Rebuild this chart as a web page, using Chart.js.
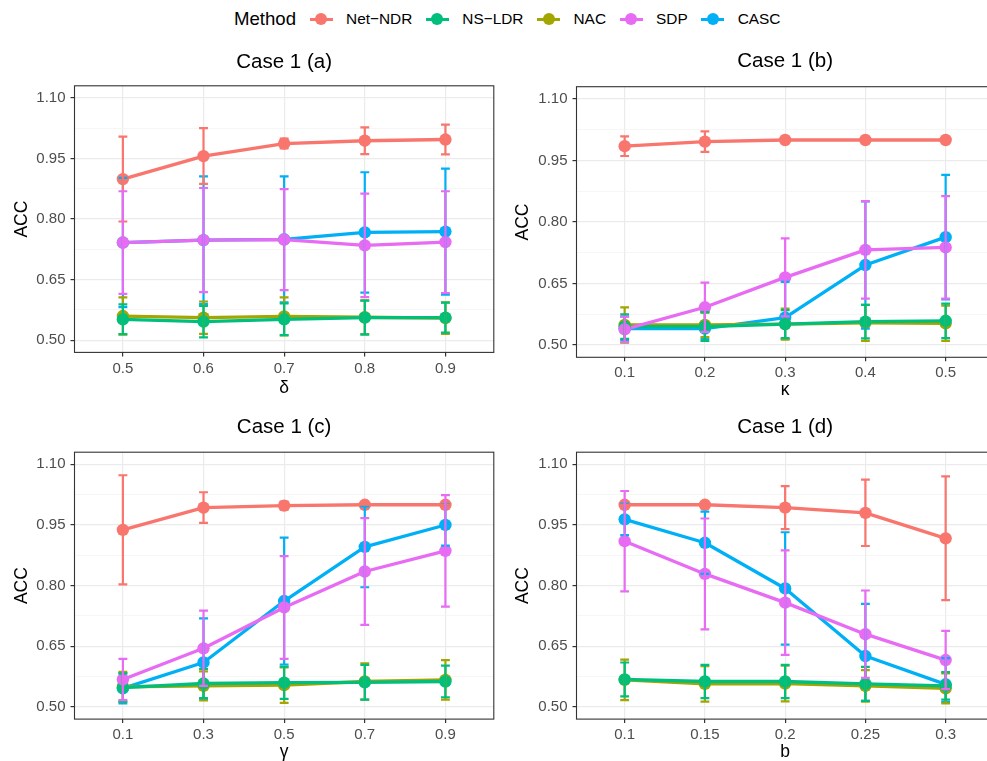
<!DOCTYPE html>
<html>
<head>
<meta charset="utf-8">
<script src="https://cdn.jsdelivr.net/npm/chart.js@4.4.1/dist/chart.umd.min.js"></script>
<style>
  html, body { margin: 0; padding: 0; background: #fff; overflow: hidden; width: 987px; height: 761px; }
  body { position: relative; font-family: "Liberation Sans", Arial, sans-serif; }
  .panel { position: absolute; }
  #legend { position: absolute; left: 234px; top: 8px; height: 22px; display: flex; align-items: center; white-space: nowrap; }
  #legend .ltitle { font-size: 18.6px; color: #000; }
  #legend .key { position: relative; width: 23px; height: 14px; margin: 0 13.5px; }
  #legend .key i { position: absolute; left: 0; right: 0; top: 5.5px; height: 3px; }
  #legend .key b { position: absolute; left: 5.5px; top: 1px; width: 12px; height: 12px; border-radius: 50%; }
  #legend .ltext { font-size: 15.4px; color: #000; }
</style>
</head>
<body>
<div id="legend"></div>
<div class="panel" style="left:0;top:40px"><canvas id="cA" width="500" height="360"></canvas></div>
<div class="panel" style="left:500px;top:40px"><canvas id="cB" width="500" height="360"></canvas></div>
<div class="panel" style="left:0;top:400px"><canvas id="cC" width="500" height="361"></canvas></div>
<div class="panel" style="left:500px;top:400px"><canvas id="cD" width="500" height="361"></canvas></div>
<script>
// legend order and colours
const methods = ["Net\u2212NDR", "NS\u2212LDR", "NAC", "SDP", "CASC"];
const colors = ["#F8766D", "#00BF7D", "#A3A500", "#E76BF3", "#00B0F6"];
const drawOrder = [4, 2, 0, 1, 3];   // CASC, NAC, Net-NDR, NS-LDR, SDP (last on top)

const yTicks = [0.50, 0.65, 0.80, 0.95, 1.10];

// rows follow `methods`: mean ACC, error bar low / high
const xLabelsA = ["0.5", "0.6", "0.7", "0.8", "0.9"];
const meanA = [
  [0.899, 0.956, 0.987, 0.994, 0.997],
  [0.552, 0.546, 0.552, 0.556, 0.556],
  [0.560, 0.556, 0.559, 0.557, 0.555],
  [0.742, 0.748, 0.749, 0.735, 0.743],
  [0.742, 0.748, 0.750, 0.767, 0.769],
];
const loA = [
  [0.794, 0.887, 0.975, 0.961, 0.960],
  [0.515, 0.507, 0.513, 0.514, 0.519],
  [0.514, 0.516, 0.512, 0.515, 0.516],
  [0.615, 0.619, 0.624, 0.607, 0.617],
  [0.582, 0.590, 0.594, 0.618, 0.613],
];
const hiA = [
  [1.004, 1.025, 0.999, 1.027, 1.034],
  [0.589, 0.585, 0.591, 0.598, 0.593],
  [0.606, 0.596, 0.606, 0.599, 0.594],
  [0.869, 0.877, 0.874, 0.863, 0.869],
  [0.902, 0.906, 0.906, 0.916, 0.925],
];

const xLabelsB = ["0.1", "0.2", "0.3", "0.4", "0.5"];
const meanB = [
  [0.985, 0.996, 1.000, 1.000, 1.000],
  [0.545, 0.545, 0.551, 0.557, 0.559],
  [0.549, 0.549, 0.551, 0.554, 0.553],
  [0.538, 0.592, 0.665, 0.732, 0.738],
  [0.540, 0.540, 0.567, 0.695, 0.763],
];
const loB = [
  [0.961, 0.971, 1.000, 1.000, 1.000],
  [0.515, 0.510, 0.517, 0.516, 0.517],
  [0.506, 0.519, 0.513, 0.510, 0.510],
  [0.507, 0.532, 0.570, 0.613, 0.613],
  [0.512, 0.515, 0.515, 0.540, 0.611],
];
const hiB = [
  [1.009, 1.021, 1.000, 1.000, 1.000],
  [0.575, 0.580, 0.585, 0.598, 0.601],
  [0.592, 0.579, 0.589, 0.598, 0.596],
  [0.569, 0.652, 0.760, 0.851, 0.863],
  [0.570, 0.580, 0.654, 0.850, 0.915],
];

const xLabelsC = ["0.1", "0.3", "0.5", "0.7", "0.9"];
const meanC = [
  [0.938, 0.993, 0.998, 1.000, 1.000],
  [0.548, 0.558, 0.560, 0.561, 0.563],
  [0.550, 0.552, 0.554, 0.563, 0.567],
  [0.568, 0.645, 0.746, 0.835, 0.886],
  [0.546, 0.610, 0.762, 0.896, 0.950],
];
const loC = [
  [0.803, 0.955, 0.988, 1.000, 1.000],
  [0.513, 0.522, 0.520, 0.518, 0.524],
  [0.513, 0.516, 0.510, 0.518, 0.518],
  [0.517, 0.552, 0.619, 0.703, 0.748],
  [0.509, 0.520, 0.605, 0.796, 0.899],
];
const hiC = [
  [1.073, 1.031, 1.008, 1.000, 1.000],
  [0.583, 0.594, 0.600, 0.604, 0.602],
  [0.587, 0.588, 0.598, 0.608, 0.616],
  [0.619, 0.738, 0.873, 0.967, 1.024],
  [0.583, 0.719, 0.919, 0.996, 1.001],
];

const xLabelsD = ["0.1", "0.15", "0.2", "0.25", "0.3"];
const meanD = [
  [1.000, 1.000, 0.993, 0.980, 0.917],
  [0.568, 0.563, 0.563, 0.557, 0.552],
  [0.567, 0.557, 0.558, 0.552, 0.546],
  [0.910, 0.829, 0.758, 0.680, 0.616],
  [0.964, 0.906, 0.793, 0.626, 0.556],
];
const loD = [
  [1.000, 1.000, 0.940, 0.898, 0.764],
  [0.526, 0.522, 0.522, 0.515, 0.518],
  [0.517, 0.513, 0.514, 0.513, 0.509],
  [0.786, 0.692, 0.629, 0.572, 0.544],
  [0.925, 0.829, 0.654, 0.515, 0.512],
];
const hiD = [
  [1.000, 1.000, 1.046, 1.062, 1.070],
  [0.610, 0.604, 0.604, 0.599, 0.586],
  [0.617, 0.601, 0.602, 0.591, 0.583],
  [1.034, 0.966, 0.887, 0.788, 0.688],
  [1.003, 0.983, 0.932, 0.755, 0.621],
];

// html legend
const leg = document.getElementById("legend");
leg.innerHTML = '<span class="ltitle">Method</span>' + methods.map((m, i) =>
  '<span class="key"><i style="background:' + colors[i] + '"></i><b style="background:' + colors[i] + '"></b></span>' +
  '<span class="ltext">' + m + '</span>').join("");

Chart.defaults.font.family = '"Liberation Sans", Arial, sans-serif';

// major + minor y grid positions
const yGrid = [];
yTicks.forEach((t, i) => { yGrid.push(t); if (i < yTicks.length - 1) yGrid.push((t + yTicks[i + 1]) / 2); });

const capW = 0.11;

const errorBars = {
  id: "errorBars",
  afterDatasetsDraw(chart, args, opts) {
    const { ctx, chartArea: a, scales: { x, y } } = chart;
    ctx.save();
    ctx.lineWidth = 2.2;
    drawOrder.forEach(k => {
      ctx.strokeStyle = colors[k];
      opts.lo[k].forEach((lo, i) => {
        const px = x.getPixelForValue(i);
        const hw = x.getPixelForValue(i + capW / 2) - px;
        const yl = y.getPixelForValue(lo), yh = y.getPixelForValue(opts.hi[k][i]);
        ctx.beginPath();
        ctx.moveTo(px, yl); ctx.lineTo(px, yh);
        ctx.moveTo(px - hw, yl); ctx.lineTo(px + hw, yl);
        ctx.moveTo(px - hw, yh); ctx.lineTo(px + hw, yh);
        ctx.stroke();
      });
    });
    // panel border
    ctx.strokeStyle = "#333333";
    ctx.lineWidth = 1.1;
    ctx.strokeRect(a.left, a.top, a.right - a.left, a.bottom - a.top);
    ctx.restore();
  }
};

function makePanel(id, L, title, xLabels, xTitle, means, lo, hi) {
  const datasets = [];
  drawOrder.forEach((k, j) => {
    datasets.push({
      data: means[k].map((v, i) => ({ x: i, y: v })),
      borderColor: colors[k], borderWidth: 3.3, borderJoinStyle: "round",
      pointRadius: 0, fill: false, order: 20 - j,
    });
  });
  drawOrder.forEach((k, j) => {
    datasets.push({
      data: means[k].map((v, i) => ({ x: i, y: v })),
      showLine: false, pointRadius: 6.2, pointHoverRadius: 6.2,
      pointBackgroundColor: colors[k], pointBorderWidth: 0, borderColor: colors[k],
      order: 10 - j,
    });
  });

  return new Chart(document.getElementById(id), {
    type: "line",
    data: { datasets: datasets },
    plugins: [errorBars],
    options: {
      responsive: false, animation: false,
      layout: { padding: { left: 0, right: L.padR, top: 0, bottom: 0 } },
      plugins: {
        legend: { display: false }, tooltip: { enabled: false },
        title: {
          display: true, text: title, fullSize: false, color: "#000",
          font: { size: 20.5, weight: "normal", lineHeight: 1.2 },
          padding: { top: L.tTop, bottom: L.tBot },
        },
        errorBars: { lo: lo, hi: hi },
      },
      scales: {
        x: {
          type: "linear", min: -0.6, max: 4.6,
          afterBuildTicks: s => { s.ticks = xLabels.map((_, i) => ({ value: i })); },
          afterFit: s => { s.height = L.xH; },
          ticks: { color: "#4D4D4D", font: { size: 15 }, padding: 3, maxRotation: 0, autoSkip: false,
                   callback: v => xLabels[Math.round(v)] },
          grid: { color: "#EBEBEB", lineWidth: 1.2, tickLength: 4, tickColor: "#333333" },
          border: { display: false },
          title: { display: true, text: xTitle, color: "#000", font: { size: 17.5, lineHeight: 1 },
                   padding: { top: 0, bottom: L.xtPad } },
        },
        y: {
          type: "linear", min: 0.47, max: 1.13,
          afterBuildTicks: s => { s.ticks = yGrid.map(v => ({ value: v })); },
          afterFit: s => { s.width = L.yW; },
          ticks: { color: "#4D4D4D", font: { size: 15 }, padding: 5, autoSkip: false,
                   callback: (v, i) => i % 2 === 0 ? yTicks[i / 2].toFixed(2) : "" },
          grid: {
            color: c => c.index % 2 === 0 ? "#EBEBEB" : "#F2F2F2",
            lineWidth: c => c.index % 2 === 0 ? 1.2 : 0.7,
            tickLength: 4,
            tickColor: c => c.index % 2 === 0 ? "#333333" : "rgba(0,0,0,0)",
          },
          border: { display: false },
          title: { display: true, text: "ACC", color: "#000", font: { size: 17.5, lineHeight: 1.2 },
                   padding: { top: L.ytPad, bottom: 0 } },
        },
      },
    },
  });
}

makePanel("cA", { padR: 3.5, yW: 74.5, xH: 47.6, tTop: 10.4, tBot: 10.8, ytPad: 11.2, xtPad: 3.2 },
  "Case 1 (a)", xLabelsA, "\u03b4", meanA, loA, hiA);
makePanel("cB", { padR: 1, yW: 76.5, xH: 42.7, tTop: 9.4, tBot: 12.7, ytPad: 12.8, xtPad: 1.2 },
  "Case 1 (b)", xLabelsB, "\u03ba", meanB, loB, hiB);
makePanel("cC", { padR: 3.5, yW: 74.5, xH: 41.9, tTop: 15.4, tBot: 12.2, ytPad: 11.2, xtPad: 0.5 },
  "Case 1 (c)", xLabelsC, "\u03b3", meanC, loC, hiC);
makePanel("cD", { padR: 1, yW: 76.5, xH: 41.9, tTop: 15.4, tBot: 12.2, ytPad: 12.8, xtPad: 0 },
  "Case 1 (d)", xLabelsD, "b", meanD, loD, hiD);
</script>
</body>
</html>
